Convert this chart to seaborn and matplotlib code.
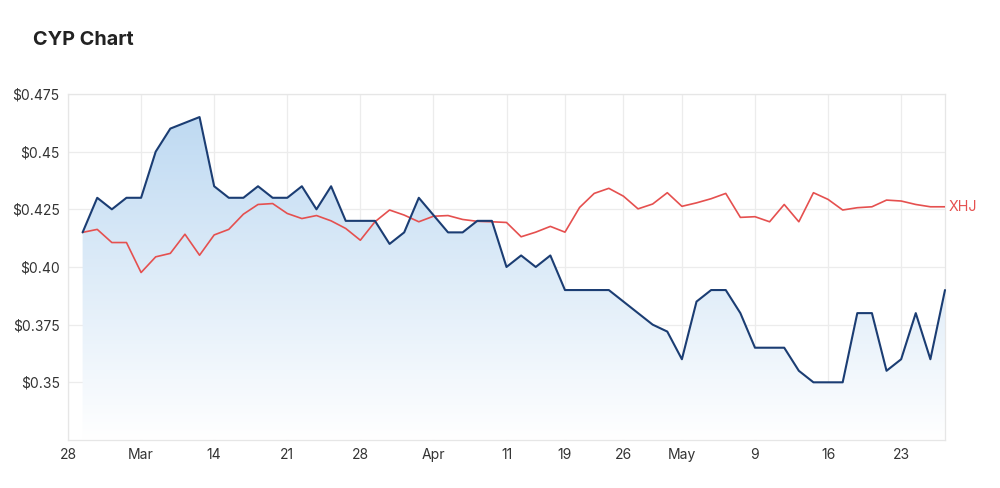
import numpy as np
import pandas as pd
import matplotlib
matplotlib.use("Agg")
import matplotlib.pyplot as plt
import seaborn as sns
from matplotlib.colors import LinearSegmentedColormap

# trading calendar (ASX, 2022) - holidays removed
holidays = ["2022-04-15", "2022-04-18", "2022-04-25"]
calendar = pd.bdate_range("2022-02-28", "2022-05-26")
calendar = calendar[~calendar.isin(pd.to_datetime(holidays))]

tick_dates = ["2022-02-28", "2022-03-07", "2022-03-14", "2022-03-21", "2022-03-28",
              "2022-04-04", "2022-04-11", "2022-04-19", "2022-04-26", "2022-05-02",
              "2022-05-09", "2022-05-16", "2022-05-23"]
tick_labels = ["28", "Mar", "14", "21", "28", "Apr", "11", "19", "26", "May", "9", "16", "23"]

cyp_price = [0.415, 0.43, 0.425, 0.43, 0.43, 0.45, 0.46, 0.4625, 0.465, 0.435,
             0.43, 0.43, 0.435, 0.43, 0.43, 0.435, 0.425, 0.435, 0.42, 0.42,
             0.42, 0.41, 0.415, 0.43, 0.4225, 0.415, 0.415, 0.42, 0.42, 0.40,
             0.405, 0.40, 0.405, 0.39, 0.39, 0.39, 0.39, 0.385, 0.38, 0.375,
             0.372, 0.36, 0.385, 0.39, 0.39, 0.38, 0.365, 0.365, 0.365, 0.355,
             0.35, 0.35, 0.35, 0.38, 0.38, 0.355, 0.36, 0.38, 0.36, 0.39]

xhj_rebased = [0.415, 0.4163, 0.4106, 0.4106, 0.3976, 0.4044, 0.4059, 0.4142, 0.4051, 0.4139,
               0.4163, 0.4229, 0.4271, 0.4275, 0.4232, 0.4210, 0.4223, 0.4200, 0.4167, 0.4116,
               0.4196, 0.4247, 0.4225, 0.4196, 0.4220, 0.4223, 0.4206, 0.4198, 0.4196, 0.4193,
               0.4131, 0.4151, 0.4176, 0.4151, 0.4258, 0.4319, 0.4341, 0.4307, 0.4252, 0.4273,
               0.4322, 0.4263, 0.4278, 0.4296, 0.4319, 0.4215, 0.4218, 0.4196, 0.4271, 0.4196,
               0.4322, 0.4293, 0.4247, 0.4257, 0.4261, 0.4290, 0.4286, 0.4271, 0.4261, 0.4261]

y_ticks = [0.35, 0.375, 0.40, 0.425, 0.45, 0.475]
y_labels = ["$0.35", "$0.375", "$0.40", "$0.425", "$0.45", "$0.475"]

# data frame on trading-day index (Feb 28 = 0)
day_pos = {d: i for i, d in enumerate(calendar)}
df = pd.DataFrame({
    "date": calendar[1:],
    "CYP": cyp_price,
    "XHJ": xhj_rebased,
})
df["day"] = df["date"].map(day_pos)

sns.set_style("white")
plt.rcParams["font.family"] = ["Inter", "DejaVu Sans"]

fig = plt.figure(figsize=(10, 4.88), dpi=100)
ax = fig.add_axes([0.068, 0.0984, 0.877, 0.709])

ymin, ymax = 0.325, 0.475
xmax = len(calendar) - 1

# gradient area under CYP
fill = ax.fill_between(df["day"], df["CYP"], ymin, facecolor="none", edgecolor="none")
cmap = LinearSegmentedColormap.from_list("blues", ["#ffffff", "#bad7f1"])
grad = np.linspace(0, 1, 256).reshape(-1, 1)
img = ax.imshow(grad, cmap=cmap, origin="lower", aspect="auto",
                extent=[0, xmax, ymin, ymax], zorder=1)
img.set_clip_path(fill.get_paths()[0], transform=ax.transData)

sns.lineplot(data=df, x="day", y="XHJ", ax=ax, color="#e5504f", linewidth=1.2, zorder=3)
sns.lineplot(data=df, x="day", y="CYP", ax=ax, color="#1b3d73", linewidth=1.5, zorder=4,
             clip_on=False)

ax.text(df["day"].iloc[-1] + 0.25, df["XHJ"].iloc[-1], "XHJ", color="#e5504f",
        fontsize=10.3, va="center", ha="left", clip_on=False)

ax.set_xlim(0, xmax)
ax.set_ylim(ymin, ymax)
ax.set_xticks([day_pos[pd.Timestamp(d)] for d in tick_dates])
ax.set_xticklabels(tick_labels)
ax.set_yticks(y_ticks)
ax.set_yticklabels(y_labels)
ax.tick_params(axis="both", length=0, labelsize=10, labelcolor="#333333")
ax.tick_params(axis="y", pad=6)
ax.tick_params(axis="x", pad=6)
ax.set_xlabel("")
ax.set_ylabel("")
ax.grid(True, color="#ececec", linewidth=0.9)
ax.set_axisbelow(True)
for side in ["top", "right", "left", "bottom"]:
    ax.spines[side].set_color("#e6e6e6")
    ax.spines[side].set_linewidth(0.9)

fig.text(0.033, 0.918, "CYP Chart", fontsize=14.3, fontweight="bold", color="#222222",
         ha="left", va="center")

fig.savefig("out.png", dpi=100)
